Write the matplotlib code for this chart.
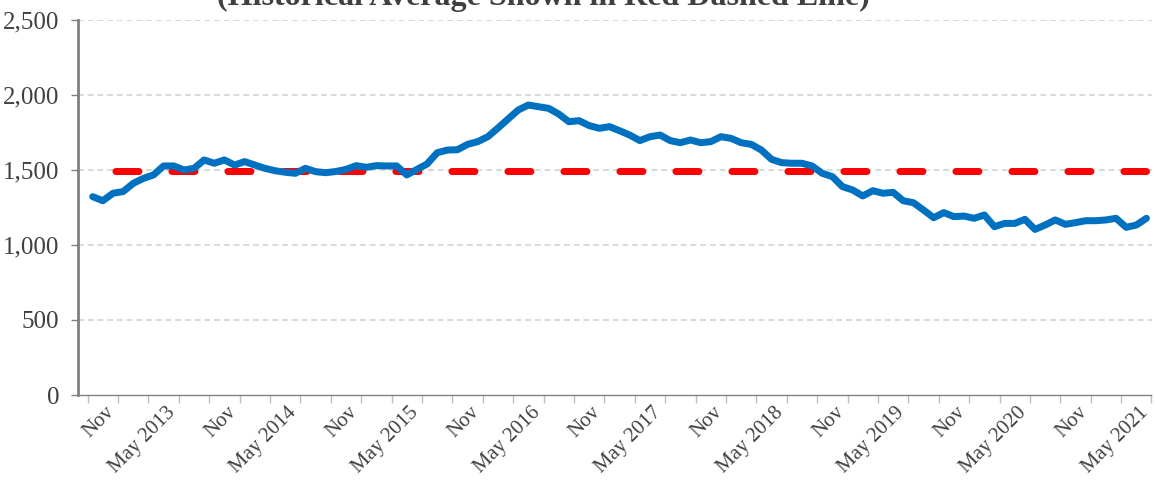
import numpy as np
import pandas as pd
import matplotlib
matplotlib.use("Agg")
import matplotlib.pyplot as plt
from matplotlib.transforms import ScaledTranslation

plt.rcParams['font.family'] = ['Liberation Serif', 'DejaVu Serif']

# monthly series, Aug 2012 .. Apr 2021
months = pd.period_range('2012-08', '2021-04', freq='M')
values = [1322, 1295, 1345, 1356, 1411, 1444, 1467, 1527, 1527, 1500,
          1511, 1567, 1545, 1567, 1533, 1556, 1533, 1511, 1495, 1485,
          1478, 1511, 1489, 1482, 1490, 1504, 1529, 1518, 1529, 1527,
          1527, 1467, 1504, 1540, 1615, 1633, 1635, 1671, 1689, 1722,
          1780, 1840, 1900, 1933, 1922, 1911, 1873, 1822, 1829, 1796,
          1778, 1789, 1762, 1733, 1696, 1722, 1733, 1696, 1682, 1700,
          1682, 1689, 1722, 1711, 1682, 1671, 1633, 1571, 1549, 1545,
          1545, 1527, 1478, 1456, 1389, 1367, 1327, 1362, 1345, 1351,
          1295, 1282, 1233, 1182, 1216, 1189, 1193, 1178, 1200, 1122,
          1144, 1144, 1171, 1104, 1133, 1167, 1138, 1149, 1162, 1162,
          1167, 1178, 1118, 1133, 1178]
hist_avg = 1493

tick_labels = ['Nov', 'May 2013', 'Nov', 'May 2014', 'Nov', 'May 2015',
               'Nov', 'May 2016', 'Nov', 'May 2017', 'Nov', 'May 2018',
               'Nov', 'May 2019', 'Nov', 'May 2020', 'Nov', 'May 2021']
y_ticks = [0, 500, 1000, 1500, 2000, 2500]

x = np.arange(len(months)) + 0.5   # points sit between month ticks

W, H = 1155, 480
fig = plt.figure(figsize=(W / 100, H / 100), dpi=100)
ax = fig.add_axes([77.5 / W, 85 / H, (1151.5 - 77.5) / W, 375 / H])

txt = '#404040'
ax.plot(x, [hist_avg] * len(x), color='#ff0000', lw=7 * 0.72,
        ls=(4.8, (3.29, 4.71)), dash_capstyle='round', zorder=3)
ax.plot(x, values, color='#0070c0', lw=7 * 0.72, solid_joinstyle='round',
        solid_capstyle='round', zorder=4)

ax.set_xlim(-1, 105)
ax.set_ylim(0, 2500)
ax.set_yticks(y_ticks)
ax.set_yticklabels([f'{v:,}' for v in y_ticks])
ax.set_xticks(np.arange(0, 106, 3), minor=True)
ax.set_xticks(np.arange(3, 106, 6))

for v in y_ticks[1:]:
    ax.axhline(v, color='#d9d9d9', lw=1.4, ls=(0, (3, 2)), zorder=1)

for s in ['top', 'right']:
    ax.spines[s].set_visible(False)
ax.spines['left'].set_color('#808080')
ax.spines['left'].set_linewidth(2.0)
ax.spines['bottom'].set_color('#808080')
ax.spines['bottom'].set_linewidth(1.0)

ax.tick_params(axis='y', length=5, width=1, color='#808080', labelsize=18,
               labelcolor=txt, pad=8)
ax.tick_params(axis='x', which='both', length=6, width=1, color='#bfbfbf',
               labelsize=15, labelcolor=txt, pad=2)

# labels set after tick_params so the shift is not reset
ax.set_xticklabels(tick_labels, rotation=45, ha='right', va='top',
                   rotation_mode='anchor')
shift = ScaledTranslation(-13 / 100, 3 / 100, fig.dpi_scale_trans)
for lab in ax.get_xticklabels():
    lab.set_transform(lab.get_transform() + shift)

fig.text(543 / W, 1 - 5 / H, '(Historical Average Shown in Red Dashed Line)',
         ha='center', va='baseline', fontsize=23, fontweight='bold', color=txt)

fig.savefig('out.png', dpi=100)
